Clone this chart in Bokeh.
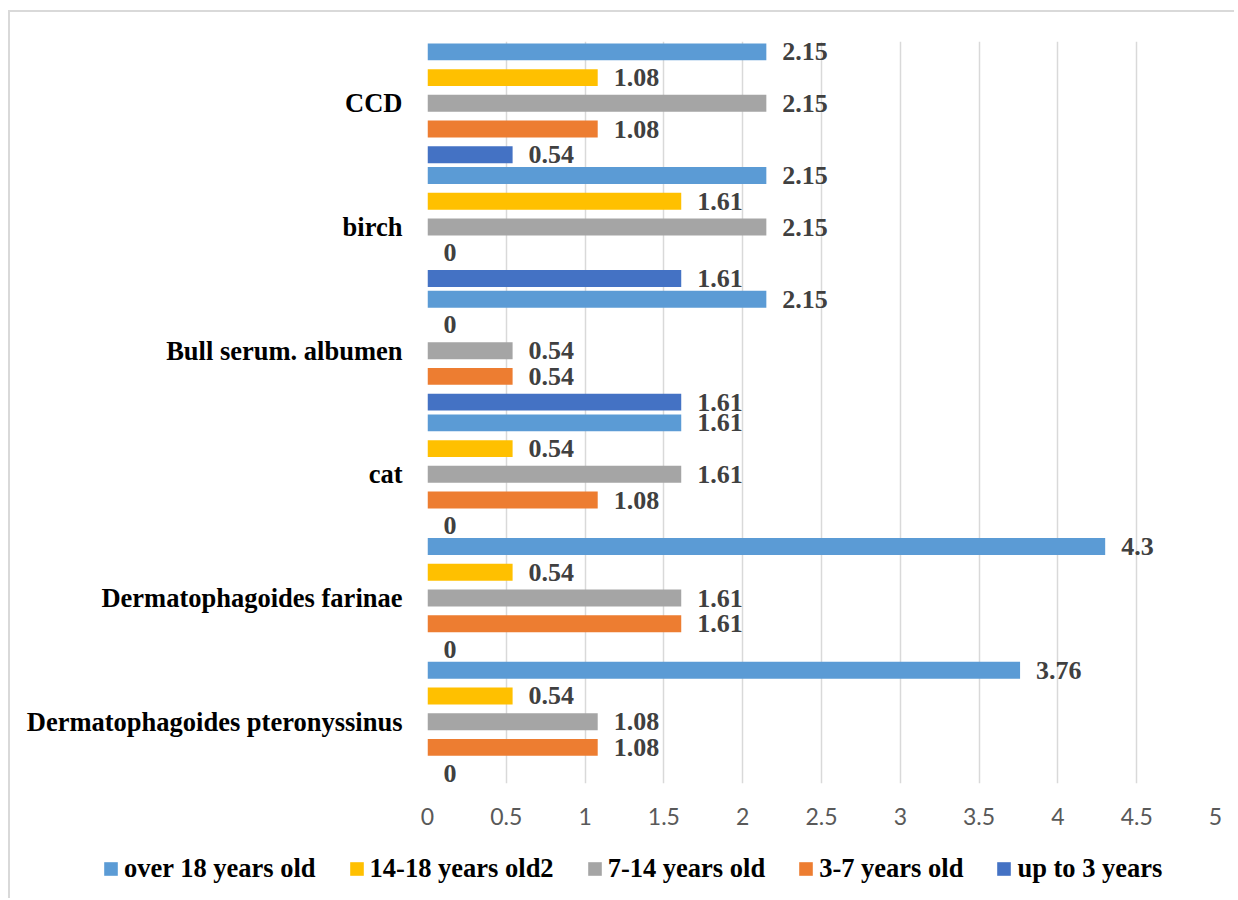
from bokeh.plotting import figure
from bokeh.models import (ColumnDataSource, FixedTicker, Legend, LegendItem, Range1d)
from bokeh.core.properties import value
from bokeh.embed import file_html
from bokeh.resources import INLINE

categories = ["Dermatophagoides pteronyssinus", "Dermatophagoides farinae", "cat",
              "Bull serum. albumen", "birch", "CCD"]
series_names = ["up to 3 years", "3-7 years old", "7-14 years old",
                "14-18 years old2", "over 18 years old"]
up_to_3 = [0, 0, 0, 1.61, 1.61, 0.54]
years_3_7 = [1.08, 1.61, 1.08, 0.54, 0, 1.08]
years_7_14 = [1.08, 1.61, 1.61, 0.54, 2.15, 2.15]
years_14_18 = [0.54, 0.54, 0.54, 0, 1.61, 1.08]
over_18 = [3.76, 4.3, 1.61, 2.15, 2.15, 2.15]
series_values = [up_to_3, years_3_7, years_7_14, years_14_18, over_18]
colors = ["#4472C4", "#ED7D31", "#A5A5A5", "#FFC000", "#5B9BD5"]
x_ticks = [0, 0.5, 1, 1.5, 2, 2.5, 3, 3.5, 4, 4.5, 5]

SERIF = "Liberation Serif"
BORDER = "2px solid #d9d9d9"

p = figure(width=1226, height=825, output_backend="svg", toolbar_location=None,
           x_range=Range1d(0, 5), y_range=Range1d(-0.5, len(categories) - 0.5),
           min_border_left=417, min_border_right=21, min_border_top=29,
           min_border_bottom=54)
p.margin = (10, 0, 0, 8)
p.styles = {"border-left": BORDER, "border-top": BORDER}
p.outline_line_color = None
p.background_fill_color = "white"
p.border_fill_color = "white"

slot = 0.208
bar_h = 0.137
for j, (name, vals, col) in enumerate(zip(series_names, series_values, colors)):
    ys = [i + (j - 2) * slot for i in range(len(categories))]
    src = ColumnDataSource(dict(y=ys, v=vals, lab=[f"{v:g}" for v in vals]))
    p.hbar(y="y", right="v", left=0, height=bar_h, source=src,
           fill_color=col, line_color=None)
    p.text(x="v", y="y", text="lab", source=src, x_offset=16,
           text_align="left", text_baseline="middle",
           text_font=value(SERIF), text_font_style="bold",
           text_font_size="26px", text_color="#404040")

# x axis
p.xaxis.ticker = FixedTicker(ticks=x_ticks)
p.xaxis.axis_line_color = None
p.xaxis.major_tick_line_color = None
p.xaxis.minor_tick_line_color = None
p.xaxis.major_label_text_font = "Lato"
p.xaxis.major_label_text_font_size = "23px"
p.xaxis.major_label_text_color = "#595959"
p.xaxis.major_label_standoff = 18

# y axis
p.yaxis.ticker = FixedTicker(ticks=list(range(len(categories))))
p.yaxis.major_label_overrides = {i: c for i, c in enumerate(categories)}
p.yaxis.axis_line_color = None
p.yaxis.major_tick_line_color = None
p.yaxis.minor_tick_line_color = None
p.yaxis.major_label_text_font = SERIF
p.yaxis.major_label_text_font_style = "bold"
p.yaxis.major_label_text_font_size = "26.5px"
p.yaxis.major_label_text_color = "black"
p.yaxis.major_label_standoff = 19

p.xgrid.grid_line_color = "#d9d9d9"
p.xgrid.grid_line_width = 1.5
p.ygrid.grid_line_color = None

# legend strip below the chart (separate root, so its frame spans the full width)
lg = figure(width=1226, height=63, output_backend="svg", toolbar_location=None,
            x_range=Range1d(0, 1), y_range=Range1d(0, 1),
            min_border=0, outline_line_color=None)
lg.margin = (0, 0, 0, 8)
lg.styles = {"border-left": BORDER}
lg.axis.visible = False
lg.grid.visible = False
lg.background_fill_color = "white"
lg.border_fill_color = "white"
items = []
for j in [4, 3, 2, 1, 0]:
    r = lg.hbar(y=[0], left=[0], right=[0], height=0,
                fill_color=colors[j], line_color=None)
    items.append(LegendItem(label=series_names[j], renderers=[r]))
legend = Legend(items=items, orientation="horizontal", location=(92, 14),
                glyph_width=17, glyph_height=17, label_standoff=5, spacing=32,
                label_height=30, padding=0, margin=0, border_line_alpha=0,
                background_fill_alpha=0,
                label_text_font=SERIF, label_text_font_style="bold",
                label_text_font_size="26.5px", label_text_color="black")
lg.add_layout(legend, "center")

open("out.html", "w").write(file_html([p, lg], INLINE))
